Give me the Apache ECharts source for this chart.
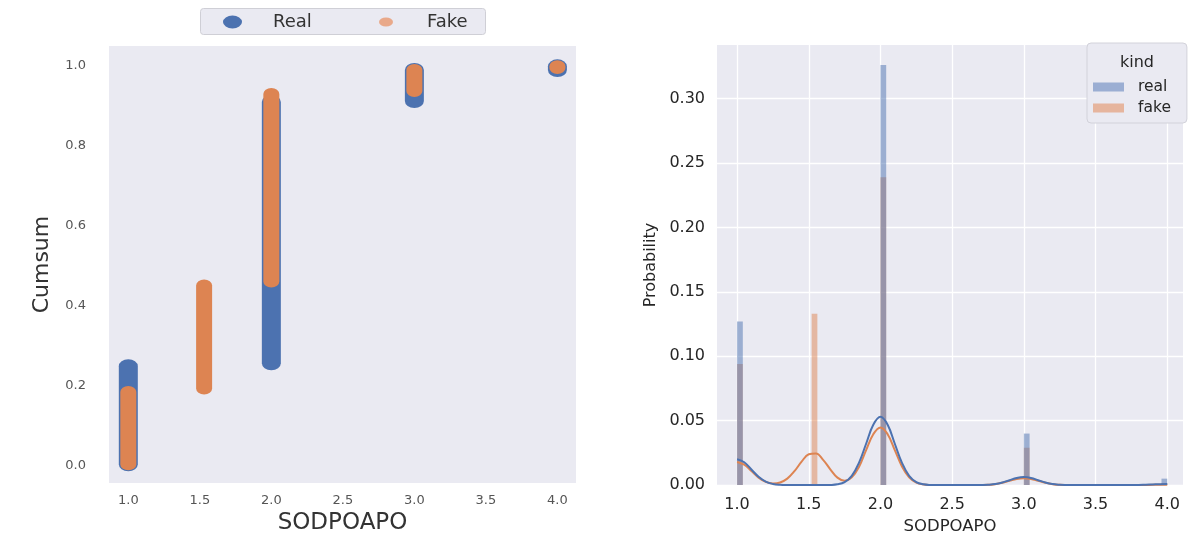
<!DOCTYPE html>
<html>
<head>
<meta charset="utf-8">
<script src="https://cdn.jsdelivr.net/npm/echarts@6/dist/echarts.min.js"></script>
<style>
  html, body { margin: 0; padding: 0; background: #ffffff; }
  #chart { width: 1202px; height: 540px; }
</style>
</head>
<body>
<div id="chart"></div>
<script>
// ---------- Left panel: cumulative sum scatter (each run of points spans [low, high]) ----------
const realCumX    = [1.0, 2.0, 3.0, 4.0];
const realCumLow  = [0.002, 0.255, 0.912, 0.990];
const realCumHigh = [0.248, 0.910, 0.990, 0.999];

const fakeCumX    = [1.0, 1.53, 2.0, 3.0, 4.0];
const fakeCumLow  = [0.002, 0.192, 0.460, 0.937, 0.995];
const fakeCumHigh = [0.183, 0.450, 0.930, 0.990, 0.999];

const leftXTicks = [1.0, 1.5, 2.0, 2.5, 3.0, 3.5, 4.0];
const leftYTicks = [0.0, 0.2, 0.4, 0.6, 0.8, 1.0];

// ---------- Right panel: histogram (probability) + KDE ----------
const binWidth     = 0.04;
const histBinStart = [1.00, 1.52, 2.00, 3.00, 3.96];
const realProb     = [0.127, 0.000, 0.326, 0.040, 0.005];
const fakeProb     = [0.094, 0.133, 0.239, 0.029, 0.0015];

const kdeX = [1.00,1.05,1.10,1.15,1.20,1.25,1.30,1.35,1.40,1.45,1.50,1.55,1.60,1.65,1.70,1.75,1.80,1.85,1.90,1.95,
              2.00,2.05,2.10,2.15,2.20,2.25,2.30,2.35,2.40,2.45,2.50,2.55,2.60,2.65,2.70,2.75,2.80,2.85,2.90,2.95,
              3.00,3.05,3.10,3.15,3.20,3.25,3.30,3.35,3.40,3.45,3.50,3.55,3.60,3.65,3.70,3.75,3.80,3.85,3.90,3.95,4.00];
const kdeReal = [0.0200,0.0177,0.0121,0.0065,0.0027,0.0009,0.0002,0.0000,0,0,0,0,0,0.0001,0.0006,0.0023,0.0072,0.0172,0.0321,0.0468,
                 0.0530,0.0468,0.0321,0.0172,0.0072,0.0023,0.0006,0.0001,0,0,0,0,0,0,0.0001,0.0003,0.0008,0.0020,0.0038,0.0055,
                 0.0062,0.0055,0.0038,0.0020,0.0008,0.0003,0.0001,0,0,0,0,0,0,0,0,0.0000,0.0001,0.0003,0.0005,0.0007,0.0008];
const kdeFake = [0.0180,0.0159,0.0109,0.0058,0.0025,0.0013,0.0020,0.0050,0.0108,0.0182,0.0239,0.0245,0.0196,0.0123,0.0058,0.0034,0.0060,0.0140,0.0272,0.0395,
                 0.0448,0.0395,0.0272,0.0145,0.0061,0.0020,0.0005,0.0001,0,0,0,0,0,0,0.0001,0.0002,0.0007,0.0018,0.0033,0.0048,
                 0.0054,0.0048,0.0033,0.0018,0.0007,0.0002,0.0001,0,0,0,0,0,0,0,0,0,0.0000,0.0001,0.0002,0.0003,0.0003];

const rightXTicks = [1.0, 1.5, 2.0, 2.5, 3.0, 3.5, 4.0];
const rightYTicks = [0.00, 0.05, 0.10, 0.15, 0.20, 0.25, 0.30];

// ---------- build ----------
const FONT = 'DejaVu Sans';
const BLUE = '#4c72b0', ORANGE = '#dd8452';

function zip3(a, b, c) { return a.map((v, i) => [v, b[i], c[i]]); }

function pillRenderer(w, h) {
  return function (params, api) {
    const lo = api.coord([api.value(0), api.value(1)]);
    const hi = api.coord([api.value(0), api.value(2)]);
    const cx = lo[0], rx = w / 2, ry = h / 2;
    const yt = hi[1], yb = lo[1];
    const d = 'M' + (cx - rx) + ' ' + yt +
              ' A' + rx + ' ' + ry + ' 0 0 1 ' + (cx + rx) + ' ' + yt +
              ' L' + (cx + rx) + ' ' + yb +
              ' A' + rx + ' ' + ry + ' 0 0 1 ' + (cx - rx) + ' ' + yb + ' Z';
    return { type: 'path', shape: { pathData: d }, style: api.style() };
  };
}

function barRenderer(params, api) {
  const x0 = api.value(0), y = api.value(1);
  const p0 = api.coord([x0, y]);
  const p1 = api.coord([x0 + binWidth, 0]);
  return {
    type: 'rect',
    shape: { x: p0[0], y: p0[1], width: p1[0] - p0[0], height: p1[1] - p0[1] },
    style: api.style()
  };
}

const ellipseIcon = 'path://M0 50 A50 50 0 1 1 100 50 A50 50 0 1 1 0 50 Z';

const chart = echarts.init(document.getElementById('chart'));
chart.setOption({
  backgroundColor: '#ffffff',
  animation: false,
  textStyle: { fontFamily: FONT },
  grid: [
    { left: 109, top: 46, width: 467, height: 438, backgroundColor: '#eaeaf2', show: true, borderWidth: 0 },
    { left: 717, top: 45, width: 466, height: 446, backgroundColor: '#eaeaf2', show: true, borderWidth: 0 }
  ],
  xAxis: [
    {
      gridIndex: 0, type: 'value', min: 0.865, max: 4.13,
      axisLine: { show: false }, axisTick: { show: false, customValues: leftXTicks }, splitLine: { show: false },
      axisLabel: { customValues: leftXTicks, formatter: v => v.toFixed(1), color: '#555', fontSize: 13, margin: 11, fontFamily: FONT },
      name: 'SODPOAPO', nameLocation: 'middle', nameGap: 25,
      nameTextStyle: { fontSize: 23, color: '#333', fontFamily: FONT }
    },
    {
      gridIndex: 1, type: 'value', min: 0.86, max: 4.11,
      axisLine: { show: false }, axisTick: { show: false, customValues: rightXTicks },
      splitLine: { show: true, lineStyle: { color: '#ffffff', width: 1.3 } },
      axisLabel: { customValues: rightXTicks, formatter: v => v.toFixed(1), color: '#262626', fontSize: 16, margin: 12, fontFamily: FONT },
      name: 'SODPOAPO', nameLocation: 'middle', nameGap: 31,
      nameTextStyle: { fontSize: 16.5, color: '#262626', fontFamily: FONT }
    }
  ],
  yAxis: [
    {
      gridIndex: 0, type: 'value', min: -0.045, max: 1.05,
      axisLine: { show: false }, axisTick: { show: false, customValues: leftYTicks }, splitLine: { show: false },
      axisLabel: { customValues: leftYTicks, formatter: v => v.toFixed(1), color: '#555', fontSize: 13, margin: 23, fontFamily: FONT },
      name: 'Cumsum', nameLocation: 'middle', nameGap: 56,
      nameTextStyle: { fontSize: 22, color: '#333', fontFamily: FONT }
    },
    {
      gridIndex: 1, type: 'value', min: 0, max: 0.3416,
      axisLine: { show: false }, axisTick: { show: false, customValues: rightYTicks },
      splitLine: { show: true, lineStyle: { color: '#ffffff', width: 1.3 } },
      axisLabel: { customValues: rightYTicks, formatter: v => v.toFixed(2), color: '#262626', fontSize: 16, margin: 12, fontFamily: FONT },
      name: 'Probability', nameLocation: 'middle', nameGap: 58,
      nameTextStyle: { fontSize: 16, color: '#262626', fontFamily: FONT }
    }
  ],
  legend: [
    {
      left: 223, top: 12, padding: 0, selectedMode: false, symbolKeepAspect: false,
      itemWidth: 19, itemHeight: 13,
      data: [{ name: 'Real', icon: ellipseIcon, itemStyle: { color: BLUE } }],
      textStyle: { fontSize: 18, color: '#333', fontFamily: FONT, padding: [0, 0, 0, 26], lineHeight: 20 }
    },
    {
      left: 379, top: 12, padding: 0, selectedMode: false, symbolKeepAspect: false,
      itemWidth: 14, itemHeight: 9,
      data: [{ name: 'Fake', icon: ellipseIcon, itemStyle: { color: '#e9a98a' } }],
      textStyle: { fontSize: 18, color: '#333', fontFamily: FONT, padding: [0, 0, 0, 29], lineHeight: 20 }
    },
    {
      left: 1087, top: 43, orient: 'vertical', selectedMode: false,
      padding: [36, 16, 7, 6], itemGap: 5,
      backgroundColor: '#eaeaf2', borderColor: '#d2d2da', borderWidth: 1, borderRadius: 4,
      itemWidth: 31, itemHeight: 9,
      data: [
        { name: 'real', icon: 'rect', itemStyle: { color: '#9baed3' } },
        { name: 'fake', icon: 'rect', itemStyle: { color: '#e6b59e' } }
      ],
      textStyle: { fontSize: 15.5, color: '#262626', fontFamily: FONT, padding: [0, 0, 0, 9], lineHeight: 15 }
    }
  ],
  graphic: [
    { type: 'rect', left: 200, top: 8, z: 0,
      shape: { width: 285, height: 26, r: 3 },
      style: { fill: '#eaeaf2', stroke: '#cfcfd6', lineWidth: 1 } },
    { type: 'text', z: 100, left: 1120, top: 55,
      style: { text: 'kind', fontSize: 16, fill: '#262626', fontFamily: FONT } }
  ],
  series: [
    {
      name: 'Real', type: 'custom', xAxisIndex: 0, yAxisIndex: 0, clip: true,
      renderItem: pillRenderer(19, 14), itemStyle: { color: BLUE },
      encode: { x: 0, y: [1, 2] },
      data: zip3(realCumX, realCumLow, realCumHigh)
    },
    {
      name: 'Fake', type: 'custom', xAxisIndex: 0, yAxisIndex: 0, clip: true,
      renderItem: pillRenderer(16, 12), itemStyle: { color: ORANGE },
      encode: { x: 0, y: [1, 2] },
      data: zip3(fakeCumX, fakeCumLow, fakeCumHigh)
    },
    {
      name: 'fake', type: 'custom', xAxisIndex: 1, yAxisIndex: 1, clip: true,
      renderItem: barRenderer, itemStyle: { color: 'rgba(221,132,82,0.5)' },
      encode: { x: 0, y: 1 },
      data: histBinStart.map((x, i) => [x, fakeProb[i]])
    },
    {
      name: 'real', type: 'custom', xAxisIndex: 1, yAxisIndex: 1, clip: true,
      renderItem: barRenderer, itemStyle: { color: 'rgba(76,114,176,0.5)' },
      encode: { x: 0, y: 1 },
      data: histBinStart.map((x, i) => [x, realProb[i]])
    },
    {
      name: 'fake kde', type: 'line', xAxisIndex: 1, yAxisIndex: 1,
      showSymbol: false, smooth: 0.4, clip: true,
      lineStyle: { color: ORANGE, width: 2 }, itemStyle: { color: ORANGE },
      data: kdeX.map((x, i) => [x, kdeFake[i]])
    },
    {
      name: 'real kde', type: 'line', xAxisIndex: 1, yAxisIndex: 1,
      showSymbol: false, smooth: 0.4, clip: true,
      lineStyle: { color: BLUE, width: 2 }, itemStyle: { color: BLUE },
      data: kdeX.map((x, i) => [x, kdeReal[i]])
    }
  ]
});
</script>
</body>
</html>
